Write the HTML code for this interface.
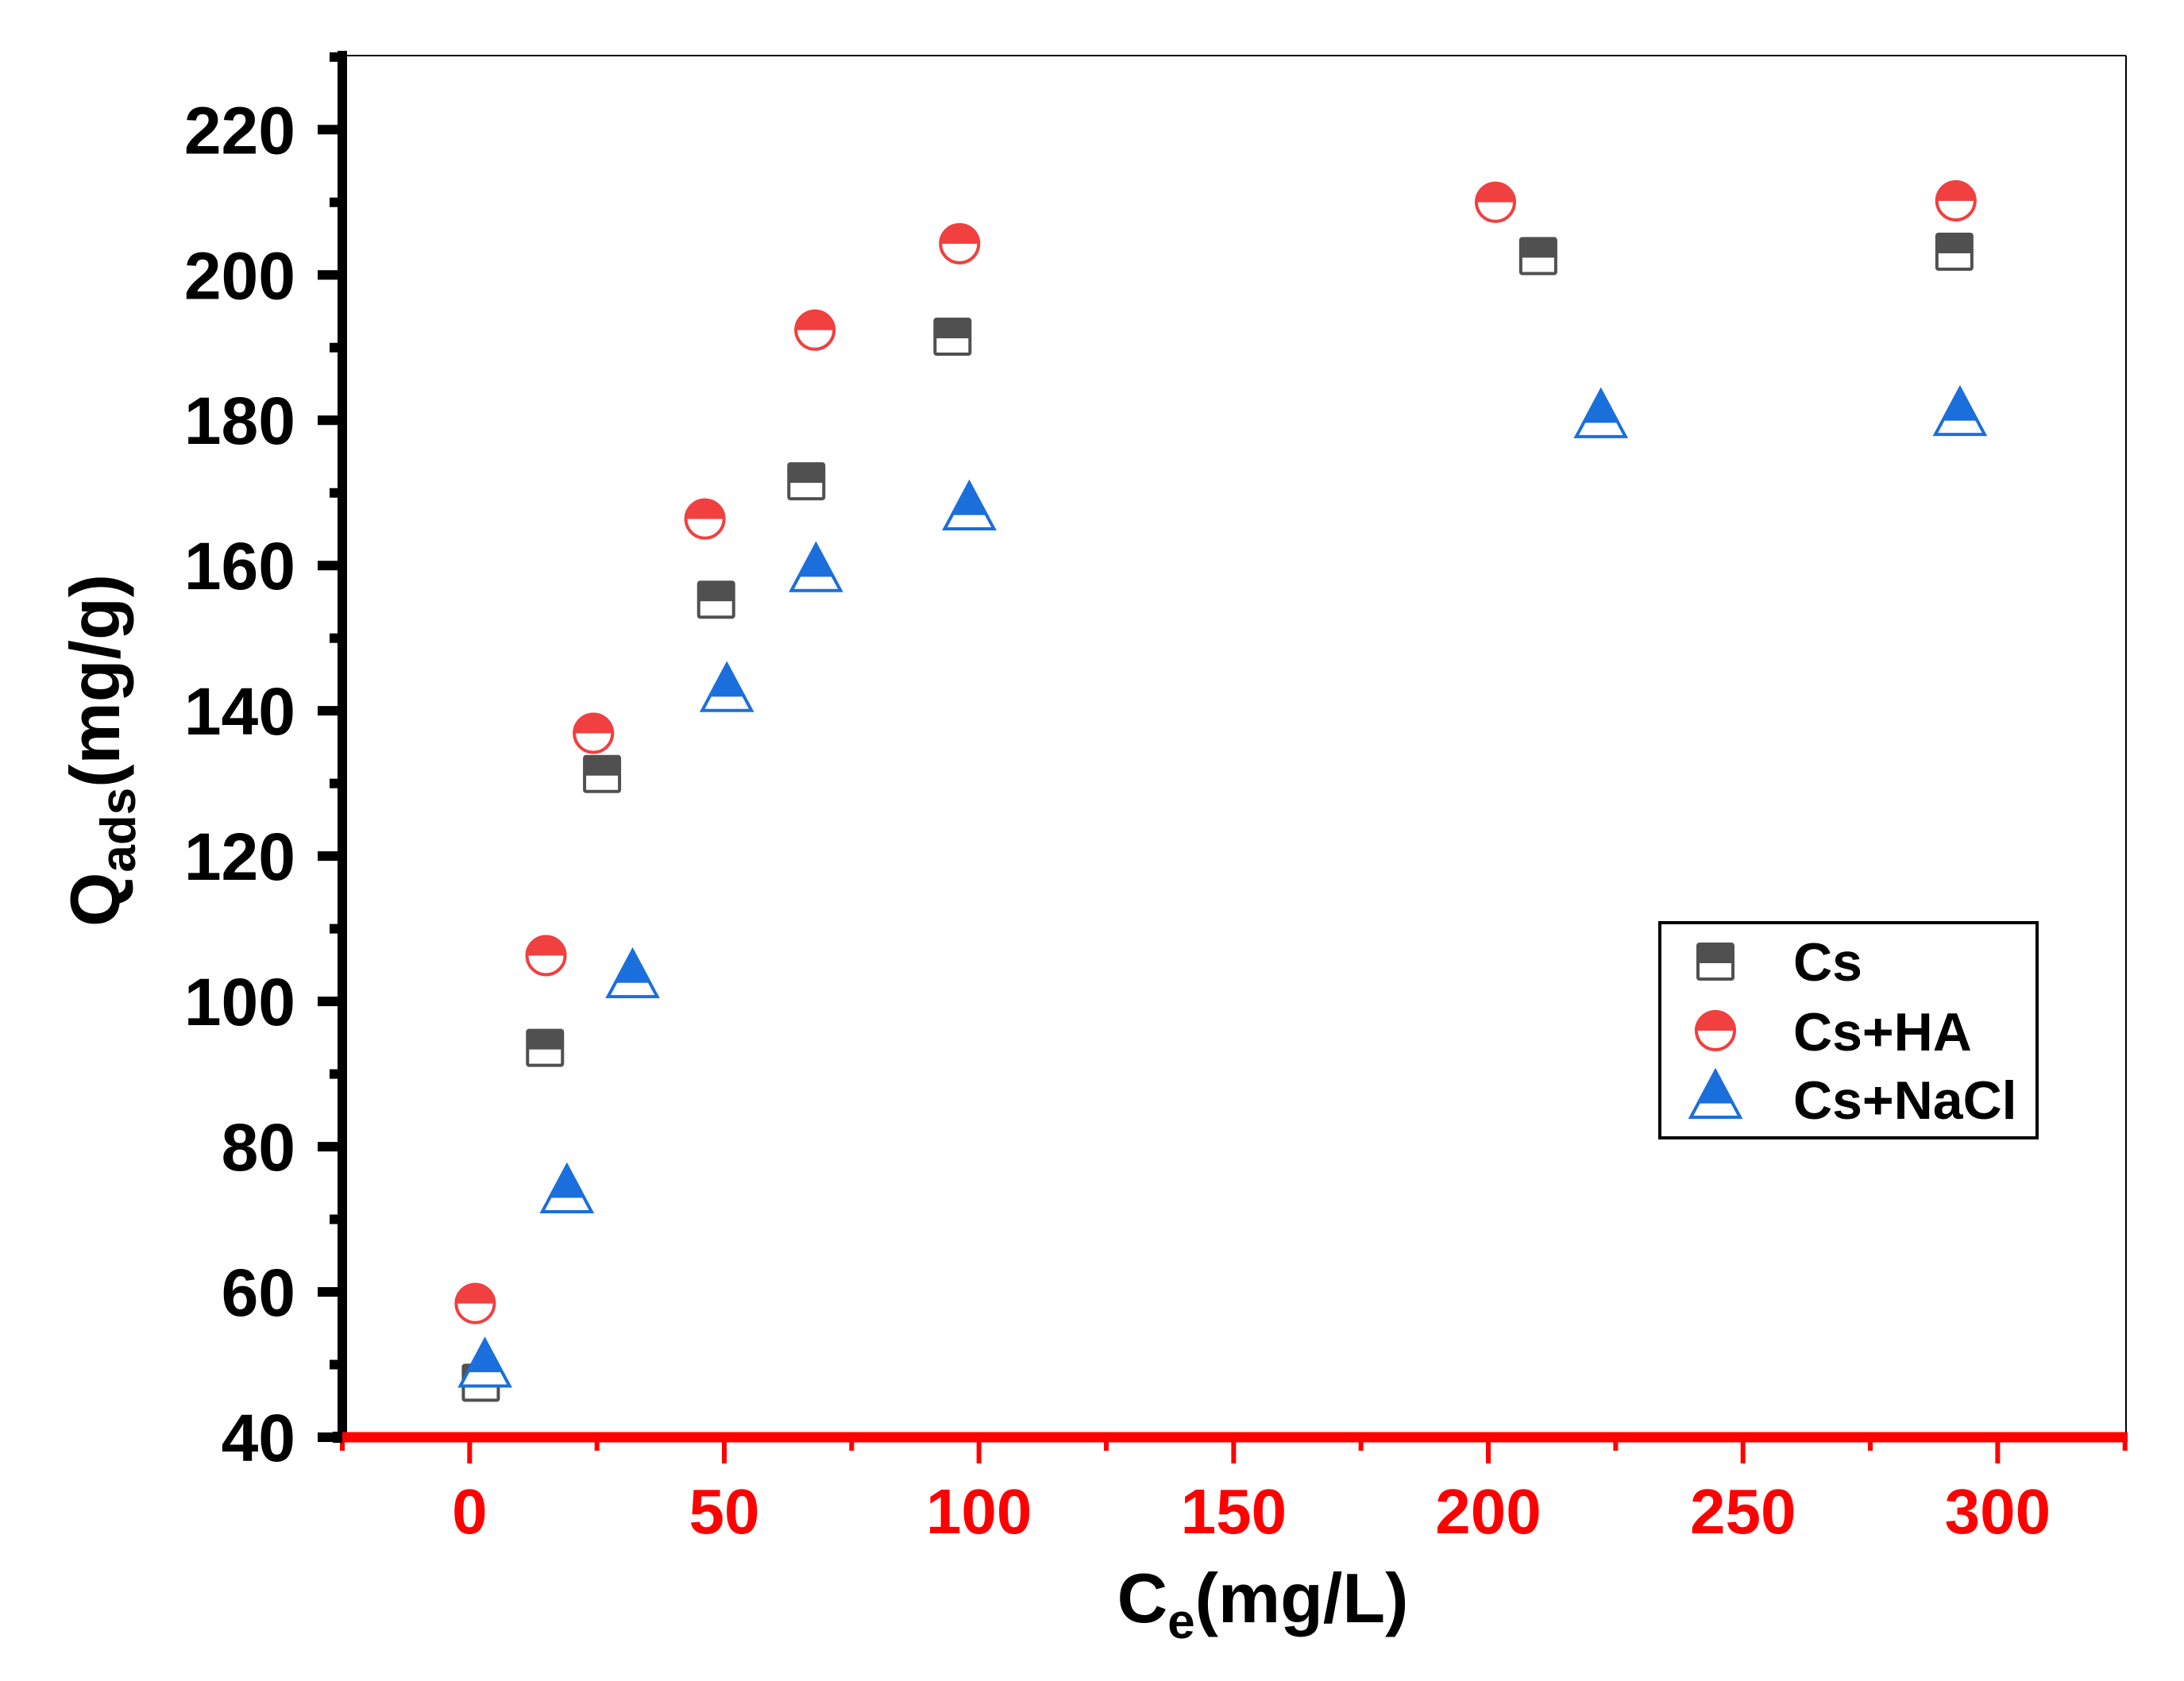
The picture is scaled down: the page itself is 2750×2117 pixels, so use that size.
<!DOCTYPE html>
<html><head><meta charset="utf-8"><style>
html,body{margin:0;padding:0;background:#fff;}
svg{display:block;font-family:"Liberation Sans",Arial,sans-serif;font-weight:bold;}
</style></head><body>
<svg id="chart" width="2750" height="2117" viewBox="0 0 2750 2117" xmlns="http://www.w3.org/2000/svg">
<g id="frame"></g>
<g id="axes"></g>
<g id="marks"></g>
<g id="legend"></g>
</svg>
<script>
const xTicks=[0,50,100,150,200,250,300];
const yTicks=[40,60,80,100,120,140,160,180,200,220];
const csX=[2.2,14.8,26.0,48.4,66.1,94.8,209.8,291.5];
const csY=[47.5,93.6,131.3,155.3,171.6,191.5,202.6,203.2];
const haX=[1.1,15.0,24.3,46.2,67.8,96.2,201.4,291.8];
const haY=[58.4,106.3,136.9,166.4,192.4,204.3,210.0,210.2];
const naX=[3.0,19.1,32.0,50.5,68.0,98.1,222.1,292.6];
const naY=[50.0,74.0,103.6,143.0,159.5,168.0,180.7,181.0];

const NS="http://www.w3.org/2000/svg";
const L=431,R=2677,T=70,B=1810;
const xMin=-25,xMax=325.2,yMin=40,yMax=230.2;
function sx(v){return L+(v-xMin)/(xMax-xMin)*(R-L);}
function sy(v){return B-(v-yMin)/(yMax-yMin)*(B-T);}
function mk(tag,attrs,parent){const e=document.createElementNS(NS,tag);for(const k in attrs)e.setAttribute(k,attrs[k]);parent.appendChild(e);return e;}
const frame=document.getElementById('frame'),axes=document.getElementById('axes'),marks=document.getElementById('marks'),legend=document.getElementById('legend');

let e;
e=mk('line',{x1:L,y1:T,x2:R,y2:T,stroke:'#000','stroke-width':2},frame);


e=mk('line',{x1:R,y1:T,x2:R,y2:B,stroke:'#000','stroke-width':2},frame);



for(let v=40;v<=230;v+=10){
  const major=(v%20===0);
  e=mk('line',{x1:major?400:415,y1:sy(v),x2:L,y2:sy(v),stroke:'#000','stroke-width':12},axes);
  
  
}
yTicks.forEach(v=>{
  e=mk('text',{x:372,y:sy(v)+30,'text-anchor':'end','font-size':84,fill:'#000'},axes);
  e.textContent=v;
  
  
});
e=mk('line',{x1:L,y1:64,x2:L,y2:B+6,stroke:'#000','stroke-width':12},axes);



for(let v=-25;v<=325;v+=25){
  const major=(v%50===0);
  e=mk('line',{x1:sx(v),y1:B,x2:sx(v),y2:major?1843:1827,stroke:'#f00','stroke-width':6},axes);
  
  
}
e=mk('line',{x1:L-6,y1:B,x2:R+2,y2:B,stroke:'#f00','stroke-width':13},axes);


e=mk('rect',{x:L-12,y:B-7,width:12,height:14,fill:'#000'},axes);


xTicks.forEach(v=>{
  e=mk('text',{x:sx(v),y:1931,'text-anchor':'middle','font-size':80,fill:'#f00'},axes);
  e.textContent=v;
  
  
});
e=mk('text',{x:1590,y:2043,'text-anchor':'middle','font-size':88,fill:'#000'},axes);
e.innerHTML='C<tspan font-size="62" dy="20">e</tspan><tspan dy="-20">(mg/L)</tspan>';


e=mk('text',{x:0,y:0,'text-anchor':'middle','font-size':88,fill:'#000',transform:'translate(150,945) rotate(-90)'},axes);
e.innerHTML='Q<tspan font-size="62" dy="20">ads</tspan><tspan dy="-20">(mg/g)</tspan>';



const GRAY='#505050',RED='#f04040',BLUE='#1a6fdc';
function square(cx,cy,p,name){
  const g=mk('g',{},p);
  
  
  mk('rect',{x:cx-22,y:cy-22,width:44,height:44,fill:'#fff',stroke:GRAY,'stroke-width':4,rx:2},g);
  mk('rect',{x:cx-22,y:cy-22,width:44,height:24,fill:GRAY},g);
}
function circle(cx,cy,p,name){
  const g=mk('g',{},p);
  
  
  const r=24;
  mk('circle',{cx:cx,cy:cy,r:r,fill:'#fff',stroke:RED,'stroke-width':4},g);
  mk('path',{d:`M${cx-r-2},${cy} A${r+2},${r+2} 0 0 1 ${cx+r+2},${cy} Z`,fill:RED},g);
}
function tri(cx,cy,p,name){
  const g=mk('g',{},p);
  
  
  const top=cy-31,bot=cy+27,hw=31;
  mk('path',{d:`M${cx},${top} L${cx+hw},${bot} L${cx-hw},${bot} Z`,fill:'#fff',stroke:BLUE,'stroke-width':4,'stroke-linejoin':'miter'},g);
  const my=top+(bot-top)*0.7, w=hw*0.7;
  mk('path',{d:`M${cx},${top-2} L${cx+w+2},${my} L${cx-w-2},${my} Z`,fill:BLUE},g);
}
csX.forEach((v,i)=>square(sx(v),sy(csY[i]),marks,'cs-point'));
haX.forEach((v,i)=>circle(sx(v),sy(haY[i]),marks,'cs-ha-point'));
naX.forEach((v,i)=>tri(sx(v),sy(naY[i]),marks,'cs-nacl-point'));

e=mk('rect',{x:2090,y:1162,width:475,height:271,fill:'#fff',stroke:'#000','stroke-width':4},legend);


square(2160,1211,legend,'legend-cs-symbol');
circle(2160,1298,legend,'legend-cs-ha-symbol');
tri(2160,1380,legend,'legend-cs-nacl-symbol');
[['Cs',1235,'legend-cs-label'],['Cs+HA',1323,'legend-cs-ha-label'],['Cs+NaCl',1409,'legend-cs-nacl-label']].forEach(a=>{
  e=mk('text',{x:2258,y:a[1],'font-size':68,fill:'#000'},legend);
  e.textContent=a[0];
  
  
});
</script>
</body></html>
